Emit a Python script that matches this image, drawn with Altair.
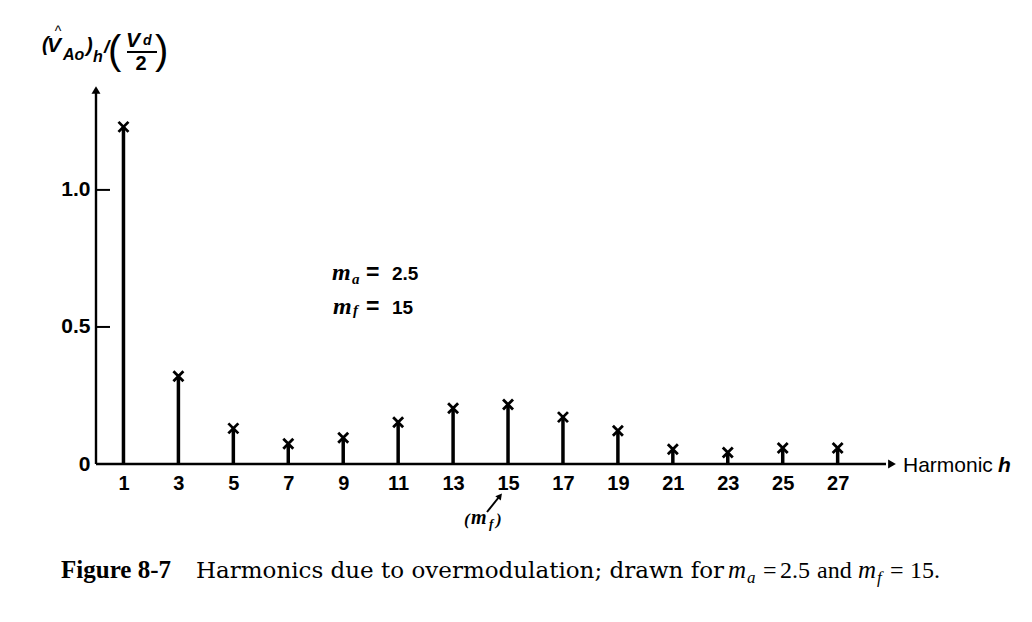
import altair as alt
import pandas as pd

harmonics = [1, 3, 5, 7, 9, 11, 13, 15, 17, 19, 21, 23, 25, 27]
amplitudes = [1.23, 0.32, 0.13, 0.074, 0.096, 0.152, 0.203, 0.217, 0.171, 0.121, 0.054, 0.042, 0.058, 0.058]
y_ticks = [0.5, 1.0]
y_label_values = [0, 0.5, 1.0]

W, H = 804, 384
X0, Y0 = 96, 80  # plot origin on the page

df = pd.DataFrame({"h": harmonics, "amp": amplitudes})

xs = alt.Scale(domain=[0, 29.27], nice=False, zero=False)
ys = alt.Scale(domain=[0, 1.401], nice=False)

x_axis = alt.Axis(values=harmonics, domain=False, ticks=False, grid=False, title=None,
                  labelFont="Liberation Sans", labelFontSize=20, labelFontWeight="bold",
                  labelColor="black", labelPadding=9, labelAngle=0)
y_axis = alt.Axis(values=y_label_values, domain=False, ticks=False, grid=False, title=None,
                  labelFont="Liberation Sans", labelFontSize=21, labelFontWeight="bold",
                  labelColor="black", labelPadding=6,
                  labelExpr="datum.value == 0 ? '0' : format(datum.value, '.1f')")

base = alt.Chart(df)

stems = base.mark_rule(color="black", strokeWidth=3.5).encode(
    x=alt.X("h:Q", scale=xs, axis=x_axis),
    y=alt.Y("amp:Q", scale=ys, axis=y_axis),
    y2=alt.datum(0),
)

markers = base.mark_point(shape="M-1,-1L1,1M1,-1L-1,1", size=100, filled=False,
                          color="black", strokeWidth=2.8, opacity=1).encode(
    x=alt.X("h:Q", scale=xs),
    y=alt.Y("amp:Q", scale=ys),
)

ticks = alt.Chart(pd.DataFrame({"v": y_ticks})).mark_rule(color="black", strokeWidth=2).encode(
    y=alt.Y("v:Q", scale=ys),
    x=alt.value(0),
    x2=alt.value(14),
)

one = pd.DataFrame({"k": [0]})

def rule(x1, y1, x2, y2, w=2.2):
    return alt.Chart(one).mark_rule(color="black", strokeWidth=w).encode(
        x=alt.value(x1 - X0), y=alt.value(y1 - Y0),
        x2=alt.value(x2 - X0), y2=alt.value(y2 - Y0))

def tri(x, y, shape, size, angle=0):
    return alt.Chart(one).mark_point(shape=shape, size=size, filled=True, color="black",
                                     opacity=1, angle=angle).encode(
        x=alt.value(x - X0), y=alt.value(y - Y0))

def txt(s, x, y, size, font="Liberation Sans", style="normal", weight="normal",
        align="left", baseline="alphabetic"):
    return alt.Chart(one).mark_text(text=s, font=font, fontSize=size, fontStyle=style,
                                    fontWeight=weight, align=align, baseline=baseline,
                                    color="black").encode(
        x=alt.value(x - X0), y=alt.value(y - Y0))

SB = dict(style="italic", weight="bold")
MS = dict(font="Liberation Serif", style="italic", weight="bold")
CAP = "DejaVu Serif"
CAP2 = "Liberation Serif"

deco = [
    # axes with arrows
    rule(96, 92, 96, 464, 2.4),
    tri(96, 90, "triangle-up", 80),
    rule(96, 464, 886, 464, 2.4),
    tri(892, 464, "triangle-right", 80),
    # y-axis title  (V^_Ao)_h / (V_d / 2)
    txt("(", 42, 51, 20, **SB),
    txt("V", 47, 52, 21, **SB),
    txt("^", 58, 36, 14, align="center"),
    txt("Ao", 63, 60, 16, **SB),
    txt(")", 86, 52, 20, **SB),
    txt("h", 93, 62, 16, **SB),
    txt("/", 104, 53, 19, **SB),
    txt("(", 108, 52, 40, baseline="middle"),
    txt("V", 126, 47, 21, **SB),
    txt("d", 143, 45, 14, **SB),
    rule(127, 52, 157, 52, 2),
    txt("2", 141, 70, 20, weight="bold", align="center"),
    txt(")", 155, 52, 40, baseline="middle"),
    # parameters
    txt("m", 332, 280, 24, **MS),
    txt("a", 352, 284, 15, **MS),
    txt("=", 366, 280, 23, weight="bold"),
    txt("2.5", 392, 280, 19, weight="bold"),
    txt("m", 333, 314, 24, **MS),
    txt("f", 353, 315, 15, **MS),
    txt("=", 366, 314, 23, weight="bold"),
    txt("15", 392, 314, 19, weight="bold"),
    # (m_f) marker
    txt("(", 464, 520, 17, baseline="middle", **MS),
    txt("m", 471, 524, 20, **MS),
    txt("f", 489, 528, 13, **MS),
    txt(")", 496, 520, 17, baseline="middle", **MS),
    rule(487, 512, 499, 497, 2),
    tri(500, 496, "triangle-up", 50, 39),
    # x-axis title
    txt("Harmonic", 903, 472, 21),
    txt("h", 998, 472, 21, **SB),
    # caption
    txt("Figure 8-7", 171, 578, 25, font=CAP2, weight="bold", align="right"),
    txt("Harmonics due to overmodulation; drawn for", 196, 578, 23, font=CAP),
    txt("m", 728, 578, 25, font=CAP2, style="italic"),
    txt("a", 747, 583, 17, font=CAP2, style="italic"),
    txt("=", 763, 578, 24, font=CAP2),
    txt("2.5", 780, 578, 24, font=CAP2),
    txt("and", 817, 578, 24, font=CAP2),
    txt("m", 858, 578, 25, font=CAP2, style="italic"),
    txt("f", 877, 583, 17, font=CAP2, style="italic"),
    txt("=", 890, 578, 24, font=CAP2),
    txt("15.", 910, 578, 24, font=CAP2),
]

chart = alt.layer(stems, markers, ticks, *deco).properties(
    width=W, height=H,
    autosize=alt.AutoSizeParams(type="none"),
    padding={"left": X0, "top": Y0, "right": 1032 - X0 - W, "bottom": 622 - Y0 - H},
    background="white",
).configure_view(stroke=None)

chart.save("out.html", embed_options={"renderer": "svg", "actions": False})
